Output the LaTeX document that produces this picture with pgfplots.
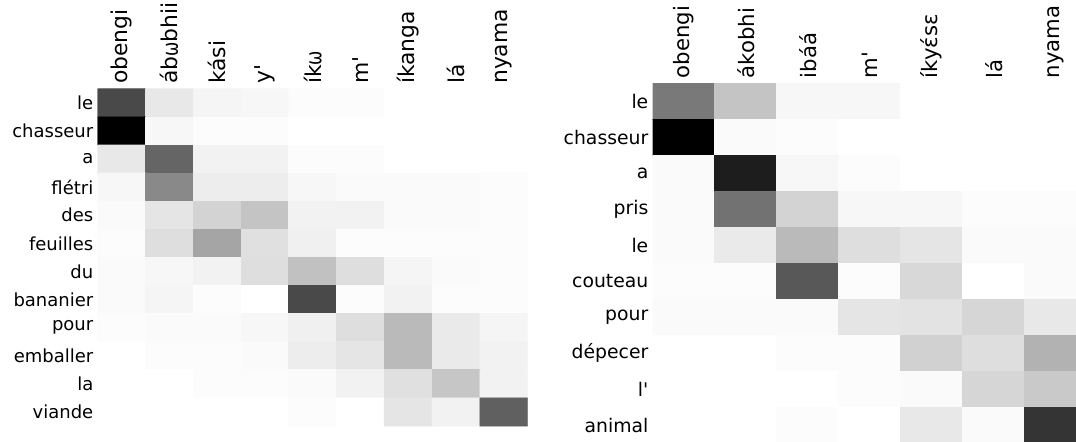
\documentclass[border=0pt]{standalone}
\usepackage{fontspec}
\setmainfont{DejaVu Sans}
\usepackage{graphicx}
\usepackage{pgfplots}
\pgfplotsset{compat=1.18}

% a narrower omega for the column words
\newcommand\om{\scalebox{0.78}[1]{ω}}

% attention weights: 0 = white, 1 = black
\pgfplotsset{
  attn/.style={
    scale only axis,
    y dir=reverse,
    enlargelimits=false,
    axis line style={draw=none},
    major tick length=0pt,
    tick style={draw=none},
    xticklabel pos=upper,
    xticklabel style={rotate=90, anchor=west, inner sep=0pt},
    xticklabel shift=2.3pt,
    yticklabel style={anchor=east, inner sep=0pt},
    yticklabel shift=2pt,
    colormap={attn}{gray(0cm)=(1); gray(1cm)=(0)},
    point meta min=0, point meta max=1,
  },
}

\begin{document}
\begin{tikzpicture}
\useasboundingbox (0pt,0pt) rectangle (538pt,220.5pt);
\clip (0pt,0pt) rectangle (538pt,220.5pt);

% ---- first sentence pair ----
\begin{axis}[attn,
  at={(48.85pt,7.5pt)}, anchor=south west,
  width=215pt, height=168.6pt,
  xmin=-0.5, xmax=8.5, ymin=-0.5, ymax=11.5,
  xtick={0,...,8}, ytick={0,...,11},
  xticklabels={obengi, áb\om bhii, kási, y\textquotesingle, ík\om, m\textquotesingle, íkanga, lá, nyama},
  yticklabels={le, chasseur, a, flétri, des, feuilles, du, bananier, pour, emballer, la, viande},
  xticklabel style={font=\fontsize{10.9}{13}\selectfont},
  yticklabel style={font=\fontsize{9.0}{11}\selectfont},
]
\addplot[matrix plot*, mesh/cols=9, point meta=explicit] table[meta=w] {
x y w
0 0 0.71
1 0 0.09
2 0 0.04
3 0 0.03
4 0 0.01
5 0 0.01
6 0 0.00
7 0 0.00
8 0 0.00
0 1 1.00
1 1 0.03
2 1 0.01
3 1 0.01
4 1 0.00
5 1 0.00
6 1 0.00
7 1 0.00
8 1 0.00
0 2 0.09
1 2 0.60
2 2 0.05
3 2 0.05
4 2 0.01
5 2 0.01
6 2 0.00
7 2 0.00
8 2 0.00
0 3 0.03
1 3 0.46
2 3 0.07
3 3 0.07
4 3 0.03
5 3 0.02
6 3 0.02
7 3 0.02
8 3 0.01
0 4 0.02
1 4 0.10
2 4 0.17
3 4 0.23
4 4 0.05
5 4 0.05
6 4 0.02
7 4 0.02
8 4 0.01
0 5 0.01
1 5 0.13
2 5 0.35
3 5 0.12
4 5 0.06
5 5 0.01
6 5 0.01
7 5 0.01
8 5 0.01
0 6 0.02
1 6 0.03
2 6 0.05
3 6 0.13
4 6 0.24
5 6 0.13
6 6 0.04
7 6 0.02
8 6 0.01
0 7 0.02
1 7 0.04
2 7 0.01
3 7 0.00
4 7 0.71
5 7 0.01
6 7 0.05
7 7 0.01
8 7 0.01
0 8 0.01
1 8 0.02
2 8 0.02
3 8 0.03
4 8 0.06
5 8 0.13
6 8 0.27
7 8 0.08
8 8 0.04
0 9 0.00
1 9 0.01
2 9 0.01
3 9 0.02
4 9 0.07
5 9 0.10
6 9 0.27
7 9 0.08
8 9 0.05
0 10 0.00
1 10 0.00
2 10 0.01
3 10 0.01
4 10 0.02
5 10 0.05
6 10 0.12
7 10 0.22
8 10 0.05
0 11 0.00
1 11 0.00
2 11 0.00
3 11 0.00
4 11 0.01
5 11 0.00
6 11 0.10
7 11 0.05
8 11 0.62
};
\end{axis}

% ---- second sentence pair ----
\begin{axis}[attn,
  at={(326.35pt,-1pt)}, anchor=south west,
  width=217pt, height=180pt,
  xmin=-0.5, xmax=6.5, ymin=-0.5, ymax=9.5,
  xtick={0,...,6}, ytick={0,...,9},
  xticklabels={obengi, ákobhi, ibáá, m\textquotesingle, íkyέsε, lá, nyama},
  yticklabels={le, chasseur, a, pris, le, couteau, pour, dépecer, l\textquotesingle, animal},
  xticklabel style={font=\fontsize{10.6}{12}\selectfont},
  yticklabel style={font=\fontsize{9.4}{11}\selectfont},
]
\addplot[matrix plot*, mesh/cols=7, point meta=explicit] table[meta=w] {
x y w
0 0 0.52
1 0 0.23
2 0 0.03
3 0 0.03
4 0 0.00
5 0 0.00
6 0 0.00
0 1 1.00
1 1 0.02
2 1 0.01
3 1 0.00
4 1 0.00
5 1 0.00
6 1 0.00
0 2 0.02
1 2 0.88
2 2 0.03
3 2 0.01
4 2 0.00
5 2 0.00
6 2 0.00
0 3 0.02
1 3 0.55
2 3 0.17
3 3 0.03
4 3 0.03
5 3 0.01
6 3 0.01
0 4 0.02
1 4 0.08
2 4 0.27
3 4 0.13
4 4 0.10
5 4 0.02
6 4 0.02
0 5 0.01
1 5 0.01
2 5 0.65
3 5 0.01
4 5 0.15
5 5 0.00
6 5 0.02
0 6 0.02
1 6 0.02
2 6 0.02
3 6 0.10
4 6 0.11
5 6 0.16
6 6 0.09
0 7 0.00
1 7 0.00
2 7 0.01
3 7 0.01
4 7 0.18
5 7 0.13
6 7 0.30
0 8 0.00
1 8 0.00
2 8 0.00
3 8 0.01
4 8 0.02
5 8 0.16
6 8 0.21
0 9 0.00
1 9 0.00
2 9 0.01
3 9 0.00
4 9 0.09
5 9 0.02
6 9 0.79
};
\end{axis}
\end{tikzpicture}
\end{document}
